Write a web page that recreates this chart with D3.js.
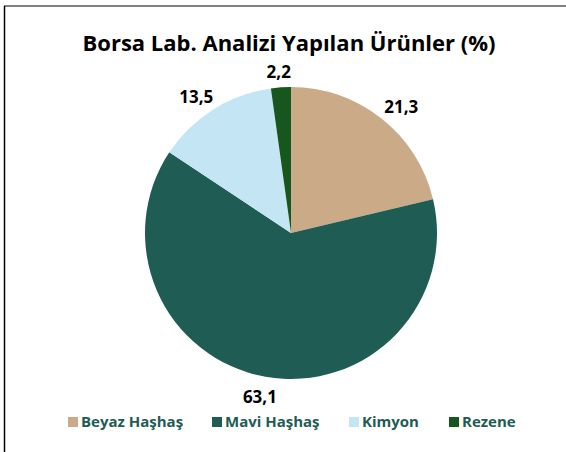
<!DOCTYPE html>
<html>
<head>
<meta charset="utf-8">
<script src="https://cdn.jsdelivr.net/npm/d3@7"></script>
<style>
  body { margin: 0; background: #fff; }
  svg { display: block; font-family: "Open Sans", "Noto Sans", sans-serif; }
</style>
</head>
<body>
<svg id="chart"></svg>
<script>
let width = 566;
let height = 452;

// data
const categories = ["Beyaz Haşhaş", "Mavi Haşhaş", "Kimyon", "Rezene"];
const values = [21.3, 63.1, 13.5, 2.2];
const labels = ["21,3", "63,1", "13,5", "2,2"];
const sliceColors = ["#CAAA87", "#1E5C54", "#C3E5F4", "#17561D"];
const legendX = [68, 212, 349, 449];

let svg = d3.select("#chart")
    .attr("width", width)
    .attr("height", height);

// frame lines
svg.append("line")
    .attr("x1", 4).attr("x2", width).attr("y1", 6).attr("y2", 6)
    .style("stroke", "#808080").style("stroke-width", 2);
svg.append("line")
    .attr("x1", 4.5).attr("x2", 4.5).attr("y1", 6).attr("y2", height)
    .style("stroke", "#000").style("stroke-width", 1.5);

svg.append("text")
    .attr("x", 289)
    .attr("y", 51)
    .attr("text-anchor", "middle")
    .style("font-size", "22px")
    .style("font-weight", "bold")
    .style("fill", "#000")
    .text("Borsa Lab. Analizi Yapılan Ürünler (%)");

let cx = 291, cy = 233, r = 146;

let color = d3.scaleOrdinal().domain(categories).range(sliceColors);

let pie = d3.pie().sort(null).value((d) => d.value);
let arc = d3.arc().innerRadius(0).outerRadius(r);

let data = categories.map((c, i) => ({name: c, value: values[i], label: labels[i]}));

let g = svg.append("g").attr("transform", `translate(${cx}, ${cy})`);

g.selectAll("path")
    .data(pie(data))
    .enter().append("path")
    .attr("d", arc)
    .style("fill", (d) => color(d.data.name))
    .style("stroke", "none");

// labels outside the end of each slice
let labelW = 44, labelH = 16, gap = 10;
g.selectAll("text.lbl")
    .data(pie(data))
    .enter().append("text")
    .attr("class", "lbl")
    .attr("x", function(d) {
        let a = (d.startAngle + d.endAngle) / 2;
        return Math.sin(a) * (r + gap) + Math.sin(a) * labelW / 2;
    })
    .attr("y", function(d) {
        let a = (d.startAngle + d.endAngle) / 2;
        return -Math.cos(a) * (r + gap) - Math.cos(a) * labelH / 2 + 9;
    })
    .attr("text-anchor", "middle")
    .style("font-size", "17px")
    .style("font-weight", "bold")
    .style("fill", "#000")
    .text((d) => d.data.label);

let legend = svg.append("g");
let items = legend.selectAll("g")
    .data(categories)
    .enter().append("g")
    .attr("transform", (d, i) => `translate(${legendX[i]}, 417)`);
items.append("rect")
    .attr("width", 10).attr("height", 10)
    .style("fill", (d) => color(d));
items.append("text")
    .attr("x", 13)
    .attr("y", 10)
    .style("font-size", "15px")
    .style("font-weight", "bold")
    .style("fill", "#1E5C54")
    .text((d) => d);
</script>
</body>
</html>
